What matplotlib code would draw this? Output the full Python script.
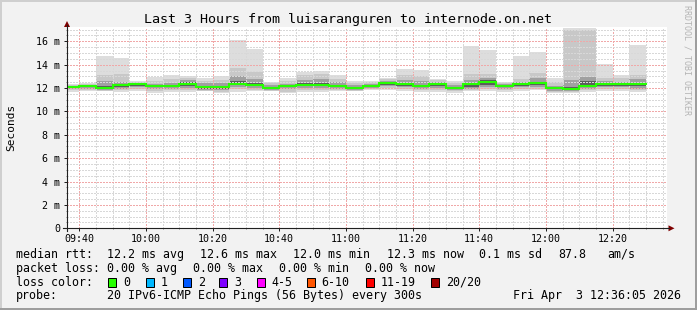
import numpy as np
import pandas as pd
import matplotlib
matplotlib.use("Agg")
import matplotlib.pyplot as plt
import matplotlib.dates as mdates
from matplotlib.ticker import FixedLocator, FixedFormatter, MultipleLocator
from matplotlib.lines import Line2D
from matplotlib.patches import Polygon, Rectangle

W, H, DPI = 697, 310, 100
FONT = "DejaVu Sans Mono"
plt.rcParams['font.family'] = [FONT]

# ---------------- data ----------------
slots = ["09:35", "09:40", "09:45", "09:50", "09:55", "10:00", "10:05", "10:10", "10:15",
         "10:20", "10:25", "10:30", "10:35", "10:40", "10:45", "10:50", "10:55", "11:00",
         "11:05", "11:10", "11:15", "11:20", "11:25", "11:30", "11:35", "11:40", "11:45",
         "11:50", "11:55", "12:00", "12:05", "12:10", "12:15", "12:20", "12:25"]

median_ms = [12.08, 12.14, 12.03, 12.23, 12.31, 12.17, 12.17, 12.37, 12.08,
             12.08, 12.37, 12.29, 12.00, 12.17, 12.29, 12.29, 12.20, 12.03,
             12.20, 12.43, 12.31, 12.20, 12.31, 12.03, 12.31, 12.54, 12.17,
             12.34, 12.43, 12.03, 11.94, 12.17, 12.31, 12.31, 12.31]

smoke_max = [12.34, 12.46, 14.74, 14.57, 12.57, 12.97, 13.11, 13.03, 12.86,
             13.03, 16.10, 15.34, 12.50, 12.86, 13.40, 13.49, 13.11, 12.60,
             12.60, 12.86, 13.63, 13.54, 12.80, 12.57, 15.60, 15.25, 12.51,
             14.74, 15.11, 12.86, 17.10, 17.12, 14.03, 13.11, 15.68]

smoke_hi2 = [12.28, 12.38, 13.10, 13.20, 12.50, 12.60, 12.80, 12.90, 12.60,
             12.70, 13.68, 13.40, 12.40, 12.60, 13.10, 13.20, 12.80, 12.45,
             12.50, 12.75, 13.10, 13.00, 12.65, 12.45, 13.20, 13.20, 12.42,
             12.75, 13.30, 12.55, 16.95, 16.98, 12.83, 12.85, 13.10]

smoke_qhi = [12.20, 12.28, 12.60, 12.55, 12.45, 12.35, 12.40, 12.70, 12.40,
             12.40, 13.00, 12.80, 12.25, 12.35, 12.70, 12.75, 12.50, 12.25,
             12.35, 12.60, 12.70, 12.60, 12.50, 12.25, 12.70, 12.90, 12.32,
             12.55, 12.85, 12.20, 12.66, 12.95, 12.60, 12.55, 12.75]

smoke_iqhi = [12.14, 12.20, 12.20, 12.35, 12.38, 12.25, 12.25, 12.50, 12.20,
              12.20, 12.60, 12.45, 12.10, 12.25, 12.40, 12.40, 12.30, 12.12,
              12.28, 12.50, 12.45, 12.30, 12.40, 12.12, 12.45, 12.65, 12.25,
              12.42, 12.55, 12.08, 12.10, 12.60, 12.45, 12.40, 12.45]

smoke_iqlo = [12.00, 12.05, 11.95, 12.10, 12.20, 12.05, 12.08, 12.20, 11.95,
              11.92, 12.25, 12.15, 11.92, 12.05, 12.15, 12.15, 12.10, 11.95,
              12.10, 12.30, 12.20, 12.10, 12.20, 11.95, 12.10, 12.30, 12.05,
              12.20, 12.25, 11.90, 11.85, 12.10, 12.20, 12.20, 12.15]

smoke_qlo = [11.90, 11.95, 11.85, 11.95, 12.05, 11.90, 11.95, 12.00, 11.85,
             11.80, 12.05, 12.00, 11.85, 11.90, 12.00, 12.00, 11.95, 11.85,
             12.00, 12.15, 12.05, 11.95, 12.00, 11.85, 11.95, 12.05, 11.92,
             12.05, 12.10, 11.78, 11.75, 11.95, 12.05, 12.05, 11.95]

smoke_lo2 = [11.80, 11.85, 11.78, 11.82, 11.90, 11.75, 11.80, 11.85, 11.78,
             11.68, 11.90, 11.85, 11.78, 11.70, 11.80, 11.85, 11.85, 11.78,
             11.90, 12.00, 11.90, 11.80, 11.85, 11.75, 11.80, 11.90, 11.80,
             11.90, 11.95, 11.65, 11.65, 11.80, 11.90, 11.90, 11.80]

smoke_min = [11.66, 11.71, 11.71, 11.68, 11.76, 11.60, 11.65, 11.70, 11.71,
             11.55, 11.70, 11.71, 11.71, 11.55, 11.65, 11.70, 11.75, 11.71,
             11.80, 11.85, 11.75, 11.65, 11.70, 11.60, 11.71, 11.71, 11.66,
             11.75, 11.80, 11.55, 11.58, 11.70, 11.75, 11.75, 11.70]

y_ticks = [0, 2, 4, 6, 8, 10, 12, 14, 16]
y_tick_labels = ["0", "2 m", "4 m", "6 m", "8 m", "10 m", "12 m", "14 m", "16 m"]
x_tick_labels = ["09:40", "10:00", "10:20", "10:40", "11:00", "11:20", "11:40", "12:00", "12:20"]

title = "Last 3 Hours from luisaranguren to internode.on.net"
y_label = "Seconds"
watermark = "RRDTOOL / TOBI OETIKER"

rtt_row = [("median rtt:", 16), ("12.2 ms avg", 107.3), ("12.6 ms max", 200.3),
           ("12.0 ms min", 293.3), ("12.3 ms now", 386.7), ("0.1 ms sd", 479.3),
           ("87.8", 558.3), ("am/s", 607.3)]
loss_row = [("packet loss:", 16), ("0.00 % avg", 107.3), ("0.00 % max", 193.3),
            ("0.00 % min", 279.3), ("0.00 % now", 365.0)]
loss_labels = ["0", "1", "2", "3", "4-5", "6-10", "11-19", "20/20"]
loss_colors = ["#26ff00", "#00b8ff", "#0059ff", "#7e00ff", "#ff00ff", "#ff5500", "#ff0000", "#a10000"]
loss_box_x = [108.3, 145.7, 182.7, 219.3, 256.7, 306.7, 366.0, 430.7]
probe_text = "20 IPv6-ICMP Echo Pings (56 Bytes) every 300s"
date_text = "Fri Apr  3 12:36:05 2026"

# ---------------- figure ----------------
def fx(px):
    return px / W

def fy(py):
    return 1 - py / H

fig = plt.figure(figsize=(W / DPI, H / DPI), dpi=DPI, facecolor="#f2f2f2")

AX_L, AX_R, AX_B, AX_T = 67, 667, 228.3, 26.7
ax = fig.add_axes([fx(AX_L), fy(AX_B), (AX_R - AX_L) / W, (AX_B - AX_T) / H])
ax.set_facecolor("white")

t = pd.to_datetime(["2026-04-03 " + s for s in slots])
x = mdates.date2num(t)
step = 5 / 1440.0

layers = [(smoke_min, smoke_max, "#dddddd"),
          (smoke_lo2, smoke_hi2, "#c8c8c8"),
          (smoke_qlo, smoke_qhi, "#a0a0a0"),
          (smoke_iqlo, smoke_iqhi, "#5c5c5c")]
for lo, hi, c in layers:
    lo = np.array(lo)
    hi = np.array(hi)
    ax.bar(x, hi - lo, bottom=lo, width=step, align="edge", color=c,
           linewidth=0, zorder=1)

xe = np.append(x, x[-1] + step)
ye = np.append(median_ms, median_ms[-1])
ax.step(xe, ye, where="post", color="#26ff00", lw=1.5, zorder=4, solid_joinstyle="miter")

x0 = mdates.date2num(pd.Timestamp("2026-04-03 09:36:20"))
x1 = mdates.date2num(pd.Timestamp("2026-04-03 12:36:20"))
ax.set_xlim(x0, x1)
ax.set_ylim(0, 17.25)

xt = mdates.date2num(pd.to_datetime(["2026-04-03 " + s for s in x_tick_labels]))
ax.xaxis.set_major_locator(FixedLocator(xt))
ax.xaxis.set_major_formatter(FixedFormatter(x_tick_labels))
ax.xaxis.set_minor_locator(mdates.MinuteLocator(byminute=range(0, 60, 5)))
ax.yaxis.set_major_locator(FixedLocator(y_ticks))
ax.yaxis.set_major_formatter(FixedFormatter(y_tick_labels))
ax.yaxis.set_minor_locator(MultipleLocator(0.5))

ax.set_axisbelow(False)
ax.grid(which="major", color="#f0a8a8", lw=0.8, ls=(0, (1.25, 1.25)), antialiased=False)
ax.grid(which="minor", color="#d8d8d8", lw=0.8, ls=(0, (1.25, 1.25)), antialiased=False)
for s in ax.spines.values():
    s.set_visible(False)

ax.tick_params(axis="both", which="major", length=2.2, width=0.72, color="#202020",
               labelsize=7.2, labelcolor="black")
ax.tick_params(axis="both", which="minor", length=1.0, width=0.72, color="#808080")
ax.tick_params(axis="y", which="major", pad=2.8)
ax.tick_params(axis="x", which="major", pad=1.6)
for lab in ax.get_xticklabels() + ax.get_yticklabels():
    lab.set_fontfamily(FONT)

# axis lines & arrows
fig.add_artist(Line2D([fx(63), fx(669)], [fy(AX_B), fy(AX_B)], color="#202020", lw=0.8,
                      transform=fig.transFigure))
fig.add_artist(Line2D([fx(AX_L), fx(AX_L)], [fy(231), fy(25)], color="#202020", lw=0.8,
                      transform=fig.transFigure))
fig.add_artist(Polygon([[fx(674.5), fy(AX_B)], [fx(668.5), fy(AX_B - 3)], [fx(668.5), fy(AX_B + 3)]],
                       closed=True, facecolor="#7f0000", edgecolor="none", transform=fig.transFigure))
fig.add_artist(Polygon([[fx(AX_L), fy(21.0)], [fx(AX_L - 3), fy(27)], [fx(AX_L + 3), fy(27)]],
                       closed=True, facecolor="#7f0000", edgecolor="none", transform=fig.transFigure))

# title, labels, watermark
fig.text(0.5, fy(19), title, ha="center", va="center", fontsize=9.6, family=FONT)
fig.text(fx(11), fy(127), y_label, rotation=90, ha="center", va="center", fontsize=8, family=FONT)
fig.text(fx(687), fy(60), watermark, rotation=270, ha="center", va="center", fontsize=6,
         color="#b4b4b4", family=FONT)

# legend
LEG = 8.4
for txt, px in rtt_row:
    fig.text(fx(px), fy(254.3), txt, ha="left", va="center", fontsize=LEG, family=FONT)
for txt, px in loss_row:
    fig.text(fx(px), fy(268.3), txt, ha="left", va="center", fontsize=LEG, family=FONT)
fig.text(fx(16), fy(282.3), "loss color:", ha="left", va="center", fontsize=LEG, family=FONT)
for lab, col, bx in zip(loss_labels, loss_colors, loss_box_x):
    fig.add_artist(Rectangle((fx(bx), fy(286.5)), 8 / W, 8.5 / H, facecolor=col,
                             edgecolor="black", lw=0.72, transform=fig.transFigure))
    fig.text(fx(bx + 15), fy(282.3), lab, ha="left", va="center", fontsize=LEG, family=FONT)
fig.text(fx(16), fy(296), "probe:", ha="left", va="center", fontsize=LEG, family=FONT)
fig.text(fx(107.3), fy(296), probe_text, ha="left", va="center", fontsize=LEG, family=FONT)
fig.text(fx(680.7), fy(296), date_text, ha="right", va="center", fontsize=LEG, family=FONT)

# frame shading
fig.add_artist(Line2D([0, 1], [fy(0.7), fy(0.7)], color="#cfcfcf", lw=1.44, transform=fig.transFigure))
fig.add_artist(Line2D([fx(0.7), fx(0.7)], [0, 1], color="#cfcfcf", lw=1.44, transform=fig.transFigure))
fig.add_artist(Line2D([0, 1], [fy(H - 1), fy(H - 1)], color="#9e9e9e", lw=1.44, transform=fig.transFigure))
fig.add_artist(Line2D([fx(W - 1), fx(W - 1)], [0, 1], color="#9e9e9e", lw=1.44, transform=fig.transFigure))

fig.savefig("out.png", dpi=DPI, facecolor=fig.get_facecolor())
